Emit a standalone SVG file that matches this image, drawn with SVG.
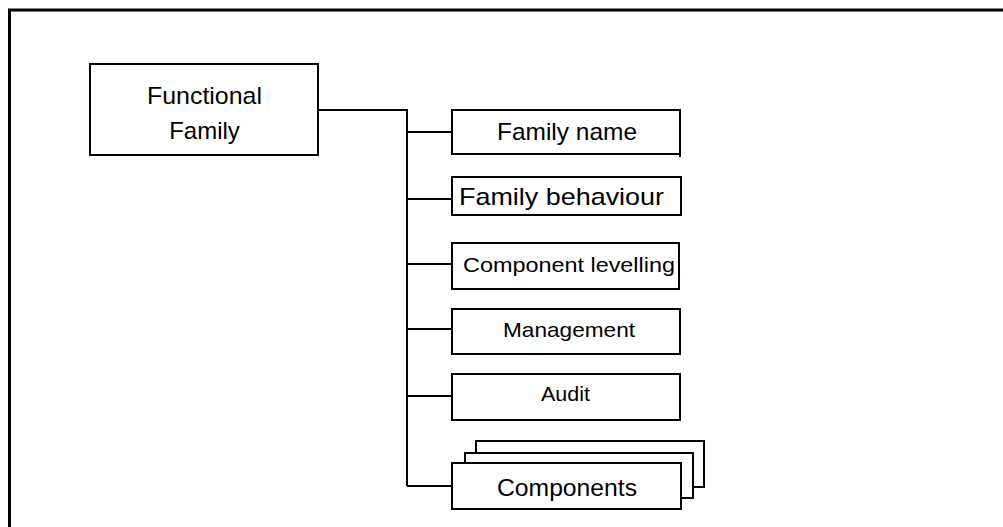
<svg xmlns="http://www.w3.org/2000/svg" width="1003" height="527" viewBox="0 0 1003 527">
<style>
.box{fill:#fff;stroke:#000;stroke-width:2}
.ln{fill:none;stroke:#000;stroke-width:2}
.t{font-family:"Liberation Sans",Arial,sans-serif;fill:#000;text-anchor:middle}
.big{font-size:24px}
.sm{font-size:21px}
</style>
<rect width="1003" height="527" fill="#fff"/>
<path d="M9.5 527 V10 H1003" fill="none" stroke="#000" stroke-width="3"/>
<g id="connectors">
<path class="ln" d="M316 110 H407 V486"/>
<path class="ln" d="M407 132 H452 M407 199 H452 M407 264 H452 M407 329 H452 M407 396 H452 M407 486 H452"/>
</g>
<g id="functional-family">
<rect class="box" x="90" y="64" width="228" height="91"/>
<text class="t big" x="204.5" y="104" textLength="115" lengthAdjust="spacingAndGlyphs">Functional</text>
<text class="t big" x="204.5" y="139">Family</text>
</g>
<g id="family-name">
<rect class="box" x="452" y="110" width="228" height="44"/>
<path class="ln" d="M680 154 V157"/>
<text class="t big" x="567" y="140" textLength="140" lengthAdjust="spacingAndGlyphs">Family name</text>
</g>
<g id="family-behaviour">
<rect class="box" x="452" y="177" width="229" height="38"/>
<text class="t big" x="561.5" y="205" textLength="205" lengthAdjust="spacingAndGlyphs">Family behaviour</text>
</g>
<g id="component-levelling">
<rect class="box" x="452" y="243" width="227" height="46"/>
<text class="t sm" x="569" y="272" textLength="212" lengthAdjust="spacingAndGlyphs">Component levelling</text>
</g>
<g id="management">
<rect class="box" x="452" y="309" width="228" height="45"/>
<text class="t sm" x="569" y="337" textLength="132" lengthAdjust="spacingAndGlyphs">Management</text>
</g>
<g id="audit">
<rect class="box" x="452" y="374" width="228" height="46"/>
<text class="t sm" x="565.5" y="401" textLength="49" lengthAdjust="spacingAndGlyphs">Audit</text>
</g>
<g id="components">
<rect class="box" x="476" y="441" width="228" height="46"/>
<rect class="box" x="465" y="453" width="228" height="45"/>
<rect class="box" x="452" y="463" width="229" height="46"/>
<text class="t big" x="567" y="496" textLength="140" lengthAdjust="spacingAndGlyphs">Components</text>
</g>
</svg>
